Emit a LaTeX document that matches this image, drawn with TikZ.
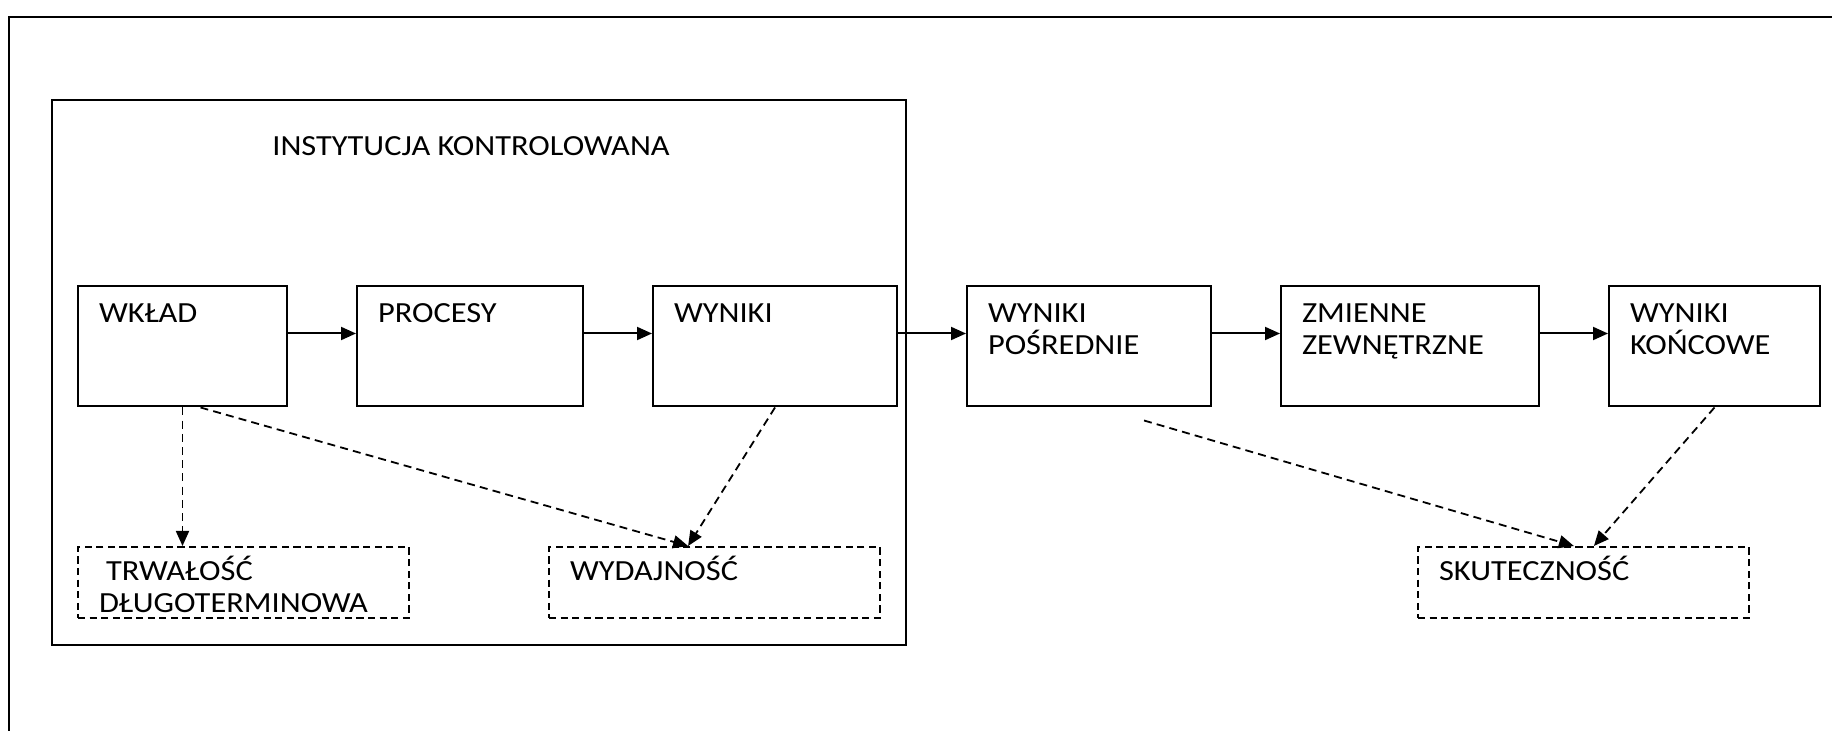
\documentclass[tikz,border=0pt]{standalone}
\usepackage{fontspec}
\setmainfont{Carlito}[FakeStretch=1.11]
\usepackage{tikz}
\usetikzlibrary{shapes,arrows.meta,positioning,calc}
\newcommand{\gora}{\rule{0pt}{12pt}}

\begin{document}
\begin{tikzpicture}[x=0.5pt, y=-0.5pt, node distance=34pt, >={Triangle[length=7.5pt,width=6.5pt]}, line width=1pt]
  \tikzstyle{blok} = [rectangle, draw, inner sep=0pt, minimum height=60pt, anchor=north west]
  \tikzstyle{blokkr} = [rectangle, draw, dash pattern=on 3.6pt off 2.2pt, inner sep=0pt, minimum width=165.5pt, minimum height=35.5pt, anchor=north west]
  \tikzstyle{opis} = [anchor=north west, inner sep=0pt, xshift=10.5pt, yshift=-6pt, align=left, font=\fontsize{14.6pt}{15.85pt}\selectfont]
  \tikzstyle{opiskr} = [opis, yshift=1.5pt]
  \tikzstyle{strz} = [->, line width=1pt]
  \tikzstyle{strzkr} = [->, line width=0.9pt, dash pattern=on 4pt off 2.6pt]

  \useasboundingbox (0,0) rectangle (1832,731);
  \clip (0,0) rectangle (1832,731);
  \draw (9,17.5) rectangle (1850,750);

  % instytucja kontrolowana
  \node[blok, minimum width=427pt, minimum height=272.5pt] (inst) at (51,99) {};
  \node[anchor=base, inner sep=0pt, font=\fontsize{14.6pt}{15.85pt}\selectfont] (tytul) at ([shift={(-4pt,-28.5pt)}]inst.north) {INSTYTUCJA KONTROLOWANA};

  % glowny ciag
  \node[blok, minimum width=104.5pt, label={[opis]north west:\gora WKŁAD}] (wklad) at (77,285.5) {};
  \node[blok, minimum width=113pt, right=of wklad, label={[opis]north west:\gora PROCESY}] (procesy) {};
  \node[blok, minimum width=122pt, right=of procesy, label={[opis]north west:\gora WYNIKI}] (wyniki) {};
  \node[blok, minimum width=122pt, right=of wyniki, label={[opis]north west:{\gora WYNIKI\\POŚREDNIE}}] (posrednie) {};
  \node[blok, minimum width=129pt, right=of posrednie, label={[opis]north west:{\gora ZMIENNE\\ZEWNĘTRZNE}}] (zmienne) {};
  \node[blok, minimum width=105.5pt, right=of zmienne, label={[opis]north west:{\gora WYNIKI\\KOŃCOWE}}] (koncowe) {};

  % oceny
  \node[blokkr, label={[opiskr]north west:{\gora\hspace{3.5pt}TRWAŁOŚĆ\\DŁUGOTERMINOWA}}] (trwalosc) at (77,546) {};
  \node[blokkr, label={[opiskr]north west:\gora WYDAJNOŚĆ}] (wydajnosc) at (548,546) {};
  \node[blokkr, label={[opiskr]north west:\gora SKUTECZNOŚĆ}] (skutecznosc) at (1417,546) {};

  \draw[strz] ([yshift=6.5pt]wklad.east) -- ([yshift=6.5pt]procesy.west);
  \draw[strz] ([yshift=6.5pt]procesy.east) -- ([yshift=6.5pt]wyniki.west);
  \draw[strz] ([yshift=6.5pt]wyniki.east) -- ([yshift=6.5pt]posrednie.west);
  \draw[strz] ([yshift=6.5pt]posrednie.east) -- ([yshift=6.5pt]zmienne.west);
  \draw[strz] ([yshift=6.5pt]zmienne.east) -- ([yshift=6.5pt]koncowe.west);

  % przerywane
  \draw[strzkr] (wklad.south) -- (wklad.south |- trwalosc.north);
  \draw[strzkr] ([xshift=9pt]wklad.south) -- ([xshift=-13.2pt]wydajnosc.north);
  \draw[strzkr] (wyniki.south) -- ([xshift=-13.2pt]wydajnosc.north);
  \draw[strzkr] ([shift={(27.5pt,-6.5pt)}]posrednie.south) -- ([xshift=-4.8pt]skutecznosc.north);
  \draw[strzkr] (koncowe.south) -- ([xshift=5.2pt]skutecznosc.north);
\end{tikzpicture}
\end{document}
